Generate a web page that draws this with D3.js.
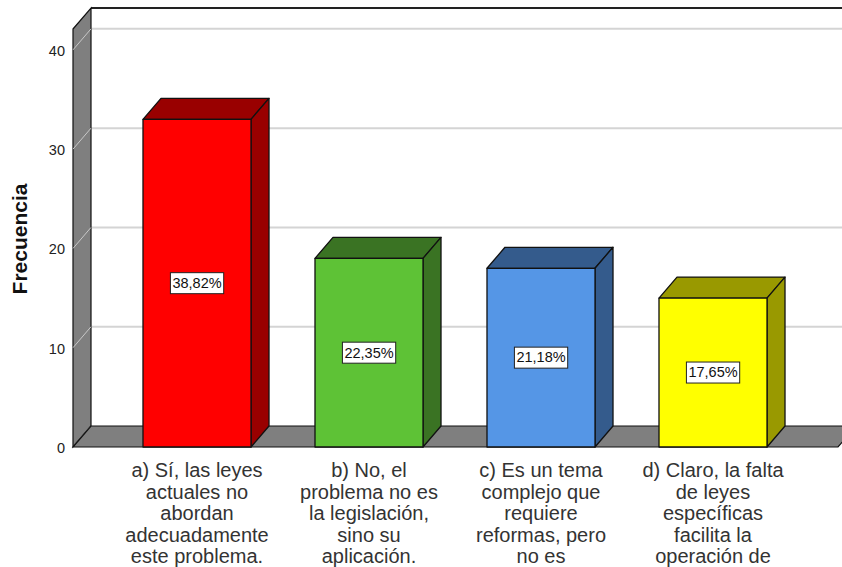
<!DOCTYPE html>
<html>
<head>
<meta charset="utf-8">
<script src="https://cdn.jsdelivr.net/npm/d3@7"></script>
<style>
  body { margin: 0; background: #fff; }
  svg { display: block; font-family: "Liberation Sans", Arial, sans-serif; }
</style>
</head>
<body>
<div id="chart"></div>
<script>
var width = 842, height = 567;

// data
var categories = ["a", "b", "c", "d"];
var counts = [33, 19, 18, 15];
var percentLabels = ["38,82%", "22,35%", "21,18%", "17,65%"];
var frontColors = ["#ff0000", "#5ec236", "#5596e6", "#ffff00"];
var darkColors = ["#990000", "#3a7323", "#345b8c", "#999900"];
var yTicks = [0, 10, 20, 30, 40];
var xLabels = [
  ["a) Sí, las leyes", "actuales no", "abordan", "adecuadamente", "este problema."],
  ["b) No, el", "problema no es", "la legislación,", "sino su", "aplicación."],
  ["c) Es un tema", "complejo que", "requiere", "reformas, pero", "no es"],
  ["d) Claro, la falta", "de leyes", "específicas", "facilita la", "operación de"]
];

// depth of the 3D effect
var dx = 18, dy = -21;
var left = 73, right = 838, floorY = 447;

var y = d3.scaleLinear()
    .domain([0, 42.1])
    .range([floorY, 29]);

var x = d3.scaleBand()
    .domain(categories)
    .range([111, 799])
    .paddingInner(0.372)
    .paddingOuter(0.186);

var svg = d3.select("#chart")
    .append("svg")
    .attr("width", width)
    .attr("height", height);

var topY = y(y.domain()[1]);

// back wall gridlines
svg.selectAll("line.grid")
    .data(yTicks.filter(function (d) { return d > 0; }))
    .enter()
    .append("line")
    .attr("class", "grid")
    .attr("x1", left + dx).attr("x2", width + 20)
    .attr("y1", function (d) { return y(d) + dy; })
    .attr("y2", function (d) { return y(d) + dy; })
    .style("stroke", "#d4d4d4")
    .style("stroke-width", 2);

// top border of back wall
svg.append("line")
    .attr("x1", left + dx).attr("x2", width + 20)
    .attr("y1", topY + dy).attr("y2", topY + dy)
    .style("stroke", "#222")
    .style("stroke-width", 2);

// left side wall
svg.append("polygon")
    .attr("points", [[left, topY], [left + dx, topY + dy], [left + dx, floorY + dy], [left, floorY]].join(" "))
    .style("fill", "#7f7f7f")
    .style("stroke", "#111")
    .style("stroke-width", 1.2);

svg.selectAll("line.sidegrid")
    .data(yTicks)
    .enter()
    .append("line")
    .attr("class", "sidegrid")
    .attr("x1", left).attr("x2", left + dx)
    .attr("y1", function (d) { return y(d); })
    .attr("y2", function (d) { return y(d) + dy; })
    .style("stroke", "#c8c8c8")
    .style("stroke-width", 1);

// floor
svg.append("polygon")
    .attr("points", [[left, floorY], [left + dx, floorY + dy], [right + dx, floorY + dy], [right, floorY]].join(" "))
    .style("fill", "#7f7f7f")
    .style("stroke", "#111")
    .style("stroke-width", 1.2);

// y tick labels
svg.selectAll("text.tick")
    .data(yTicks)
    .enter()
    .append("text")
    .attr("class", "tick")
    .attr("x", 65)
    .attr("y", function (d) { return y(d) + 2; })
    .attr("text-anchor", "end")
    .attr("dominant-baseline", "middle")
    .style("font-size", "14.5px")
    .style("fill", "#222")
    .text(function (d) { return d; });

// y title
svg.append("text")
    .attr("transform", "translate(27,239) rotate(-90)")
    .attr("text-anchor", "middle")
    .style("font-size", "21px")
    .style("font-weight", "bold")
    .style("fill", "#111")
    .text("Frecuencia");

// bars
var bars = svg.selectAll("g.bar")
    .data(counts)
    .enter()
    .append("g")
    .attr("class", "bar");

bars.append("polygon")   // top face
    .attr("points", function (d, i) {
        var x0 = x(categories[i]), x1 = x0 + x.bandwidth(), yt = y(d);
        return [[x0, yt], [x0 + dx, yt + dy], [x1 + dx, yt + dy], [x1, yt]].join(" ");
    })
    .style("fill", function (d, i) { return darkColors[i]; });

bars.append("polygon")   // side face
    .attr("points", function (d, i) {
        var x1 = x(categories[i]) + x.bandwidth(), yt = y(d);
        return [[x1, yt], [x1 + dx, yt + dy], [x1 + dx, floorY + dy], [x1, floorY]].join(" ");
    })
    .style("fill", function (d, i) { return darkColors[i]; });

bars.append("rect")   // front face
    .attr("x", function (d, i) { return x(categories[i]); })
    .attr("y", function (d) { return y(d); })
    .attr("width", x.bandwidth())
    .attr("height", function (d) { return floorY - y(d); })
    .style("fill", function (d, i) { return frontColors[i]; });

bars.selectAll("polygon, rect")
    .style("stroke", "#111")
    .style("stroke-width", 1.3)
    .style("stroke-linejoin", "round");

// percentage labels
bars.each(function (d, i) {
    var g = d3.select(this);
    var cx = x(categories[i]) + x.bandwidth() / 2;
    var cy = y(d / 2);
    var t = g.append("text")
        .attr("x", cx)
        .attr("y", cy + 1)
        .attr("text-anchor", "middle")
        .attr("dominant-baseline", "middle")
        .style("font-size", "14.5px")
        .style("fill", "#111")
        .text(percentLabels[i]);
    var bb = t.node().getBBox();
    g.insert("rect", "text")
        .attr("x", bb.x - 2)
        .attr("y", cy - 10.5)
        .attr("width", bb.width + 4)
        .attr("height", 21)
        .style("fill", "#fff")
        .style("stroke", "#222")
        .style("stroke-width", 1);
});

// category labels
svg.selectAll("text.xlab")
    .data(xLabels)
    .enter()
    .append("text")
    .attr("class", "xlab")
    .attr("text-anchor", "middle")
    .style("font-size", "20px")
    .style("fill", "#333")
    .each(function (lines, i) {
        var cx = x(categories[i]) + x.bandwidth() / 2;
        d3.select(this).selectAll("tspan")
            .data(lines)
            .enter()
            .append("tspan")
            .attr("x", cx)
            .attr("y", function (d, j) { return 477 + j * 21.5; })
            .text(function (d) { return d; });
    });
</script>
</body>
</html>
